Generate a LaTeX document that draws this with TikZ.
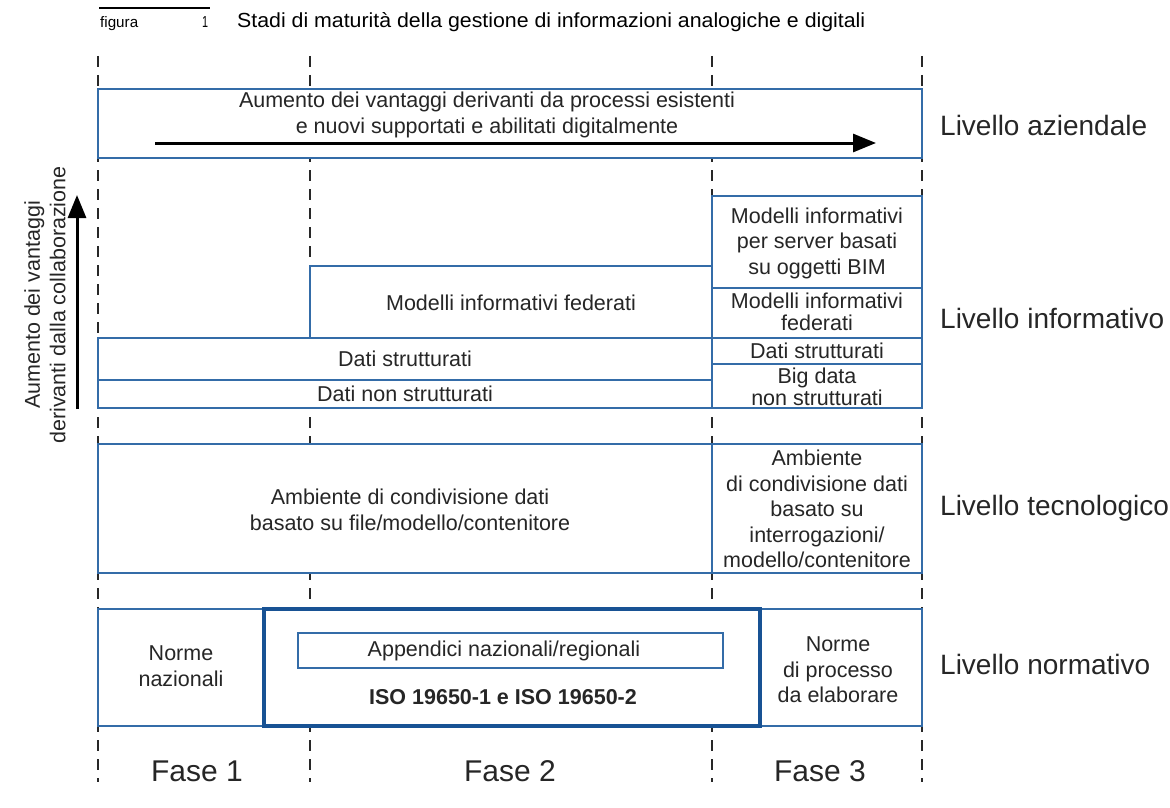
\documentclass[tikz,border=0pt]{standalone}
\usepackage{fontspec}
\setmainfont{Liberation Sans}
\usetikzlibrary{arrows.meta}
\definecolor{frame}{RGB}{52,108,168}
\definecolor{frameDark}{RGB}{24,82,148}
\definecolor{ink}{RGB}{38,38,38}
\definecolor{guide}{RGB}{40,40,40}
\begin{document}
\begin{tikzpicture}[x=1pt,y=-1pt,
  box/.style={draw=frame, line width=2.9pt, fill=white},
  rule/.style={draw=frame, line width=2.4pt},
  guide/.style={draw=guide, line width=2.8pt, dash pattern=on 11pt off 8pt},
  txt/.style={text=ink, font=\fontsize{21.5}{25.5}\selectfont, align=center, inner sep=0pt},
  tight/.style={text=ink, font=\fontsize{21.5}{22.5}\selectfont, align=center, inner sep=0pt},
  level/.style={text=ink, font=\fontsize{28}{30}\selectfont, anchor=west, inner sep=0pt},
  phase/.style={text=ink, font=\fontsize{30}{32}\selectfont, inner sep=0pt},
  bigarrow/.style={draw=black, line width=3pt, -{Triangle[length=23pt,width=18pt]}},
]
\useasboundingbox (0,0) rectangle (1170,808);

% caption
\coordinate (capL) at (99,8);
\coordinate (capR) at (210,8);
\draw[line width=1.3pt, black] (capL) -- (capR);
\node[anchor=base west, inner sep=0pt] (figlbl) at (100,28)
  {\resizebox{38pt}{11pt}{figura}};
\node[anchor=base, inner sep=0pt] (fignum) at (205,28)
  {\resizebox{6pt}{11pt}{1}};
\node[anchor=base west, inner sep=0pt] (title) at (237,28)
  {\resizebox{628pt}{15pt}{Stadi di maturità della gestione di informazioni analogiche e digitali}};

% phase boundaries
\foreach \x/\n in {98/a,310/b,712/c,922/d}{
  \coordinate (gt\n) at (\x,56);
  \coordinate (gb\n) at (\x,782);
  \draw[guide] (gt\n) -- (gb\n);
}

% business level
\draw[box] (98,89) rectangle (922,158);
\node[txt] (biz) at (487,115) {Aumento dei vantaggi derivanti da processi esistenti\\e nuovi supportati e abilitati digitalmente};
\coordinate (bizA) at (155,143);
\coordinate (bizB) at (876,143);
\draw[bigarrow] (bizA) -- (bizB);

% collaboration arrow
\coordinate (colA) at (77,409);
\coordinate (colB) at (77,195);
\draw[bigarrow] (colA) -- (colB);
\node[txt, rotate=90] (collab) at (45,305) {Aumento dei vantaggi\\derivanti dalla collaborazione};

% information level
\draw[box] (98,408) -- (98,338) -- (310,338) -- (310,266) -- (712,266) -- (712,196)
  -- (922,196) -- (922,408) -- cycle;
\draw[rule] (98,338) -- (922,338);
\draw[rule] (98,380) -- (712,380);
\draw[rule] (712,196) -- (712,408);
\draw[rule] (712,288) -- (922,288);
\draw[rule] (712,364) -- (922,364);
\draw[box, fill=none] (98,408) -- (98,338) -- (310,338) -- (310,266) -- (712,266) -- (712,196)
  -- (922,196) -- (922,408) -- cycle;
\node[txt] (fed) at (511,303) {Modelli informativi federati};
\node[txt] (ds) at (405,359) {Dati strutturati};
\node[txt] (dns) at (405,394) {Dati non strutturati};
\node[txt] (bim) at (817,243) {Modelli informativi\\per server basati\\su oggetti BIM};
\node[tight] (fed3) at (817,312) {Modelli informativi\\federati};
\node[txt] (ds3) at (817,351) {Dati strutturati};
\node[tight] (big) at (817,387) {Big data\\non strutturati};

% technology level
\draw[box] (98,444) rectangle (922,573);
\draw[rule] (712,444) -- (712,573);
\node[txt] (cde) at (410,510) {Ambiente di condivisione dati\\basato su file/modello/contenitore};
\node[txt] (cde3) at (817,509) {Ambiente\\di condivisione dati\\basato su\\interrogazioni/\\modello/contenitore};

% standards level
\draw[box] (98,609) rectangle (922,726);
\draw[draw=frameDark, line width=4.8pt, fill=white] (264,609) rectangle (760,726);
\draw[draw=frame, line width=1.6pt] (298,633) rectangle (723,668);
\node[txt] (app) at (504,651) {Appendici nazionali/regionali};
\node[txt, font=\fontsize{21.5}{25.5}\selectfont\bfseries] (iso) at (503,697) {ISO 19650-1 e ISO 19650-2};
\node[txt] (naz) at (181,666) {Norme\\nazionali};
\node[txt] (proc) at (838,670) {Norme\\di processo\\da elaborare};

% level labels
\node[level] (lvA) at (940,125) {Livello aziendale};
\node[level] (lvI) at (940,318) {Livello informativo};
\node[level] (lvT) at (940,508) {Livello tecnologico};
\node[level] (lvN) at (940,664) {Livello normativo};

% phase labels
\node[phase] (f1) at (197,771) {Fase 1};
\node[phase] (f2) at (510,771) {Fase 2};
\node[phase] (f3) at (820,771) {Fase 3};
\end{tikzpicture}
\end{document}
